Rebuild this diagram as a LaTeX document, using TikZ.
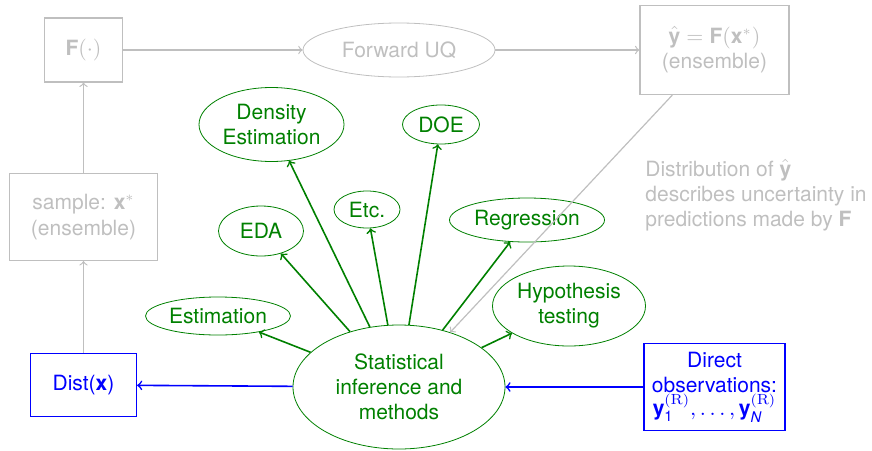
\documentclass[tikz,border=0pt]{standalone}
\usepackage{amsmath}
\usepackage{fontspec}
\setsansfont{TeX Gyre Heros}
\usetikzlibrary{shapes.geometric}
\newcommand{\bfv}[1]{\text{\bfseries #1}}
\colorlet{faded}{black!25}
\colorlet{stats}{green!50!black}
\tikzset{
  fadedbox/.style={draw=faded, text=faded, semithick, inner sep=0pt, align=center},
  fadedell/.style={ellipse, draw=faded, text=faded, thin, inner sep=0pt},
  statell/.style={ellipse, draw=stats, text=stats, thin, inner sep=0pt, align=center},
  obsbox/.style={draw=blue, text=blue, semithick, inner sep=0pt, align=center},
  fadedarrow/.style={draw=faded, semithick, ->},
  statarrow/.style={draw=stats, thick, ->},
  obsarrow/.style={draw=blue, thick, ->}
}
\begin{document}
\begin{tikzpicture}[x=0.5pt, y=-0.5pt, font=\sffamily\fontsize{10.5}{12.6}\selectfont]
\useasboundingbox (0,0) rectangle (872,450);
% forward propagation (greyed out)
\node[fadedbox, minimum width=39pt, minimum height=32pt] (F) at (83.5,50) {\textbf{F}$(\cdot)$};
\node[fadedell, minimum width=96pt, minimum height=27pt] (fwd) at (399,50) {Forward UQ};
\node[fadedbox, minimum width=74.5pt, minimum height=44.5pt] (yhat) at (714.5,50) {$\hat{\bfv{y}}=\bfv{F}(\bfv{x}^*)$\\(ensemble)};
\node[fadedbox, minimum width=74pt, minimum height=43.5pt] (sample) at (83.5,217) {sample: $\bfv{x}^*$\\(ensemble)};
\node[text=faded, anchor=north west, inner sep=0pt, align=left] (note) at (645,159) {Distribution of $\hat{\bfv{y}}$\\describes uncertainty in\\predictions made by \textbf{F}};
% inference from data
\node[obsbox, minimum width=53pt, minimum height=31.5pt] (dist) at (83.5,385) {Dist(\textbf{x})};
\node[statell, minimum width=106pt, minimum height=62pt] (stat) at (399,387) {Statistical\\inference and\\methods};
\node[obsbox, minimum width=70.5pt, minimum height=43.5pt] (obs) at (714.5,387) {Direct\\observations:\\[-1pt]$\bfv{y}_{\text{1}}^{(\mathrm{R})},\dots,\bfv{y}_{\text{\itshape N}}^{(\mathrm{R})}$};
% the methods
\node[statell, minimum width=72.5pt, minimum height=37pt] (dens) at (271.5,124.5) {Density\\Estimation};
\node[statell, minimum width=38.5pt, minimum height=19.5pt] (doe) at (441,124.5) {DOE};
\node[statell, minimum width=33pt, minimum height=18.5pt] (etc) at (367,209.5) {Etc.};
\node[statell, minimum width=42.5pt, minimum height=25pt] (eda) at (261,231) {EDA};
\node[statell, minimum width=77.5pt, minimum height=22pt] (regr) at (527,220) {Regression};
\node[statell, minimum width=76.5pt, minimum height=40pt] (hyp) at (569,306) {Hypothesis\\testing};
\node[statell, minimum width=72.5pt, minimum height=19pt] (estim) at (218,316) {Estimation};
\path[fadedarrow] (F) -- (fwd);
\path[fadedarrow] (fwd) -- (yhat);
\path[fadedarrow] (dist) -- (sample);
\path[fadedarrow] (sample) -- (F);
\path[fadedarrow] (yhat) -- (stat);
\path[obsarrow] (obs) -- (stat);
\path[obsarrow] (stat) -- (dist);
\path[statarrow] (stat) -- (dens);
\path[statarrow] (stat) -- (doe);
\path[statarrow] (stat) -- (etc);
\path[statarrow] (stat) -- (eda);
\path[statarrow] (stat) -- (regr);
\path[statarrow] (stat) -- (hyp);
\path[statarrow] (stat) -- (estim);
\end{tikzpicture}
\end{document}
